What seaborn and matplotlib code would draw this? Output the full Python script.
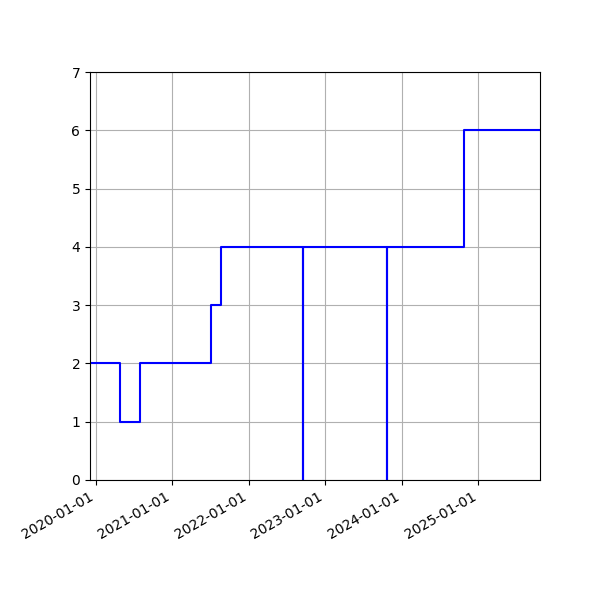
import pandas as pd
import seaborn as sns
import matplotlib
matplotlib.use("Agg")
import matplotlib.pyplot as plt
import matplotlib.dates as mdates

# dates where the count changes (step held until the next date)
change_dates = ["2019-12-05", "2020-04-25", "2020-07-29", "2021-07-06", "2021-08-21",
                "2022-09-17", "2022-09-18", "2023-10-24", "2023-10-25", "2024-10-26",
                "2025-10-22"]
counts = [2, 1, 2, 3, 4, 0, 4, 0, 4, 6, 6]

df = pd.DataFrame({"date": pd.to_datetime(change_dates), "count": counts})

fig, ax = plt.subplots(figsize=(6, 6), dpi=100)
sns.lineplot(data=df, x="date", y="count", ax=ax, color="blue",
             drawstyle="steps-post", estimator=None, linewidth=1.5)

ax.set_xlim(df["date"].min(), df["date"].max())
ax.set_ylim(0, 7)
ax.xaxis.set_major_locator(mdates.YearLocator())
ax.xaxis.set_major_formatter(mdates.DateFormatter("%Y-%m-%d"))
ax.set_xlabel("")
ax.set_ylabel("")
ax.grid(True)
fig.autofmt_xdate()
fig.subplots_adjust(left=0.15, right=0.9, top=0.88, bottom=0.2)

plt.savefig("out.png")
